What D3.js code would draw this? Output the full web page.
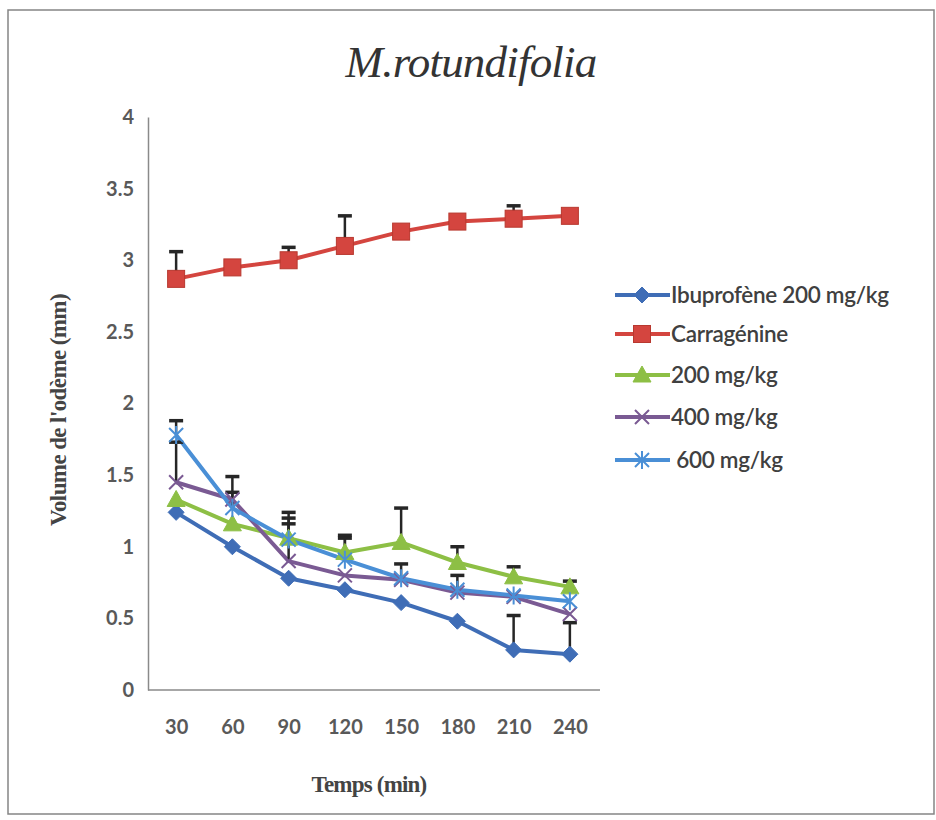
<!DOCTYPE html>
<html>
<head>
<meta charset="utf-8">
<script src="https://cdn.jsdelivr.net/npm/d3@7/dist/d3.min.js"></script>
<style>
  html, body { margin: 0; padding: 0; background: #ffffff; }
  svg { display: block; }
</style>
</head>
<body>
<svg id="chart" width="936" height="820"></svg>
<script>
// Time points (min)
const times = ["30", "60", "90", "120", "150", "180", "210", "240"];

// Oedema volume per group (mean) and positive error (SEM)
const ibuprofene = [1.24, 1.00, 0.78, 0.70, 0.61, 0.48, 0.28, 0.25];
const ibuprofeneErr = [0, 0, 0, 0, 0, 0, 0.24, 0.22];
const carragenine = [2.87, 2.95, 3.00, 3.10, 3.20, 3.27, 3.29, 3.31];
const carragenineErr = [0.19, 0, 0.09, 0.21, 0, 0, 0.09, 0];
const dose200 = [1.33, 1.16, 1.06, 0.96, 1.03, 0.89, 0.79, 0.72];
const dose200Err = [0, 0, 0.18, 0.12, 0.24, 0.11, 0.07, 0.04];
const dose400 = [1.45, 1.33, 0.90, 0.80, 0.77, 0.68, 0.65, 0.53];
const dose400Err = [0.28, 0.16, 0.26, 0, 0, 0.12, 0, 0];
const dose600 = [1.78, 1.27, 1.05, 0.91, 0.78, 0.70, 0.66, 0.62];
const dose600Err = [0.10, 0.11, 0.15, 0.15, 0.10, 0, 0, 0];

const yTicks = [0, 0.5, 1, 1.5, 2, 2.5, 3, 3.5, 4];
const legendNames = ["Ibuprofène 200 mg/kg", "Carragénine", "200 mg/kg", "400 mg/kg", " 600 mg/kg"];

const series = [
  { name: legendNames[0], values: ibuprofene, err: ibuprofeneErr, color: "#3f6db6", marker: "diamond" },
  { name: legendNames[1], values: carragenine, err: carragenineErr, color: "#d4453f", marker: "square" },
  { name: legendNames[2], values: dose200, err: dose200Err, color: "#8dbf45", marker: "triangle" },
  { name: legendNames[3], values: dose400, err: dose400Err, color: "#7a5a93", marker: "cross" },
  { name: legendNames[4], values: dose600, err: dose600Err, color: "#4a8fd6", marker: "star" }
];

const svg = d3.select("#chart");

// outer frame
svg.append("rect")
  .attr("x", 8).attr("y", 10).attr("width", 926).attr("height", 804)
  .attr("fill", "#ffffff").attr("stroke", "#858585").attr("stroke-width", 1.5);

// title
svg.append("text")
  .attr("x", 471).attr("y", 77)
  .attr("text-anchor", "middle")
  .attr("font-family", "'Liberation Serif', 'DejaVu Serif', serif")
  .attr("font-style", "italic")
  .attr("font-size", 45)
  .attr("letter-spacing", -0.8)
  .attr("fill", "#333333")
  .text("M.rotundifolia");

const x = d3.scalePoint().domain(times).range([148, 598]).padding(0.5);
const y = d3.scaleLinear().domain([0, 4]).range([690, 117]);

// axes
const axisColor = "#8a8a8a";
const yAxis = svg.append("g")
  .attr("transform", "translate(148,0)")
  .call(d3.axisLeft(y).tickValues(yTicks).tickSize(0).tickPadding(14).tickFormat(d3.format("")));
yAxis.select(".domain").attr("stroke", axisColor).attr("stroke-width", 1.5);
yAxis.selectAll("text")
  .attr("font-family", "Lato, 'Open Sans', sans-serif")
  .attr("font-weight", 700)
  .attr("font-size", 20)
  .attr("fill", "#595959");

const xAxis = svg.append("g")
  .attr("transform", "translate(0,690)")
  .call(d3.axisBottom(x).tickSize(0).tickPadding(30));
xAxis.select(".domain").attr("stroke", axisColor).attr("stroke-width", 1.5)
  .attr("d", "M148,0H600");
xAxis.selectAll("text")
  .attr("font-family", "Lato, 'Open Sans', sans-serif")
  .attr("font-weight", 700)
  .attr("font-size", 20)
  .attr("fill", "#595959");

// axis titles
svg.append("text")
  .attr("x", 369).attr("y", 792)
  .attr("text-anchor", "middle")
  .attr("font-family", "'Liberation Serif', serif")
  .attr("font-weight", 700)
  .attr("font-size", 23)
  .attr("letter-spacing", -0.8)
  .attr("fill", "#444444")
  .text("Temps (min)");

svg.append("text")
  .attr("transform", "translate(66,410) rotate(-90)")
  .attr("text-anchor", "middle")
  .attr("font-family", "'Liberation Serif', serif")
  .attr("font-weight", 700)
  .attr("font-size", 23)
  .attr("letter-spacing", -0.6)
  .attr("fill", "#444444")
  .text("Volume de l'odème (mm)");

// marker drawing
function drawMarker(g, type, color) {
  if (type === "diamond") {
    g.append("path").attr("d", "M0,-8L8,0L0,8L-8,0Z").attr("fill", color).attr("stroke", color).attr("stroke-width", 1);
  } else if (type === "square") {
    g.append("rect").attr("x", -8.5).attr("y", -8.5).attr("width", 17).attr("height", 17)
      .attr("fill", color).attr("stroke", "#b8382f").attr("stroke-width", 1);
  } else if (type === "triangle") {
    g.append("path").attr("d", "M0,-9L9,7L-9,7Z").attr("fill", color).attr("stroke", color).attr("stroke-width", 1);
  } else if (type === "cross") {
    g.append("path").attr("d", "M-7,-7L7,7M-7,7L7,-7").attr("stroke", color).attr("stroke-width", 2).attr("fill", "none");
  } else if (type === "star") {
    g.append("path").attr("d", "M-7,-7L7,7M-7,7L7,-7M0,-9L0,9").attr("stroke", color).attr("stroke-width", 2).attr("fill", "none");
  }
}

const line = d3.line().x((d, i) => x(times[i])).y(d => y(d));

// series lines
series.forEach(s => {
  svg.append("path")
    .datum(s.values)
    .attr("d", line)
    .attr("fill", "none")
    .attr("stroke", s.color)
    .attr("stroke-width", 4)
    .attr("stroke-linejoin", "round");
});

// positive error bars
series.forEach(s => {
  s.values.forEach((v, i) => {
    const e = s.err[i];
    if (!e) return;
    const cx = x(times[i]);
    const g = svg.append("g").attr("stroke", "#262626");
    g.append("line").attr("x1", cx).attr("x2", cx).attr("y1", y(v)).attr("y2", y(v + e)).attr("stroke-width", 2.5);
    g.append("line").attr("x1", cx - 7).attr("x2", cx + 7).attr("y1", y(v + e)).attr("y2", y(v + e)).attr("stroke-width", 3.5);
  });
});

// markers
series.forEach(s => {
  s.values.forEach((v, i) => {
    const g = svg.append("g").attr("transform", `translate(${x(times[i])},${y(v)})`);
    drawMarker(g, s.marker, s.color);
  });
});

// legend
const legendRows = [295, 334, 375, 417, 460];
series.forEach((s, i) => {
  const ly = legendRows[i];
  const g = svg.append("g").attr("transform", `translate(0,${ly})`);
  g.append("line").attr("x1", 615).attr("x2", 670).attr("y1", 0).attr("y2", 0)
    .attr("stroke", s.color).attr("stroke-width", 4);
  const m = g.append("g").attr("transform", "translate(642,0)");
  drawMarker(m, s.marker, s.color);
  g.append("text")
    .attr("x", 671).attr("y", 0).attr("dy", "0.36em")
    .attr("font-family", "Lato, 'Open Sans', sans-serif")
    .attr("font-weight", 600)
    .attr("font-size", 22.5)
    .attr("letter-spacing", -0.3)
    .style("white-space", "pre")
    .attr("fill", "#404040")
    .text(s.name);
});
</script>
</body>
</html>
